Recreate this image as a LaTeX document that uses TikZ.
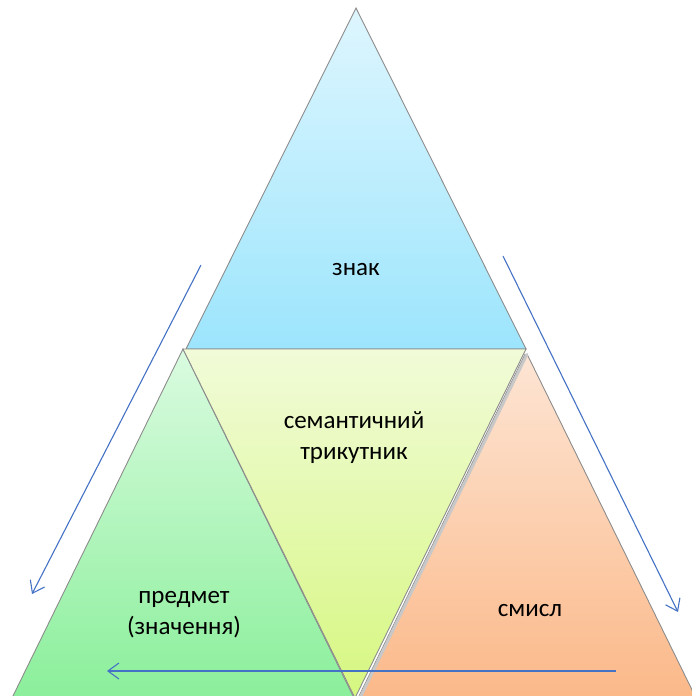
\documentclass[tikz,border=0pt]{standalone}
\usepackage{fontspec}
\setmainfont{Carlito}
\usetikzlibrary{arrows.meta}
\definecolor{arrowblue}{HTML}{4472C4}
\definecolor{edgegray}{HTML}{8C8C8C}
\definecolor{stripegray}{HTML}{C8C8C8}
\tikzset{
  tri/.style={draw=edgegray, line width=0.9pt, line join=miter},
  lbl/.style={font=\fontsize{25}{31}\selectfont, align=center, text=black, inner sep=0pt},
  flow/.style={draw=arrowblue, line width=1.1pt, -{Straight Barb[length=11pt,width=16pt,line width=1.1pt]}}
}
\begin{document}
\begin{tikzpicture}[x=1pt,y=-1pt]
\useasboundingbox (0,0) rectangle (692,696);
% top triangle (znak)
\path[tri, top color={rgb,255:red,222;green,246;blue,254}, bottom color={rgb,255:red,156;green,229;blue,253}]
  (356,8) -- (186,349) -- (526,349) -- cycle;
% left triangle (predmet)
\path[tri, top color={rgb,255:red,218;green,251;blue,224}, bottom color={rgb,255:red,138;green,239;blue,154}]
  (183,349) -- (11,700) -- (355,700) -- cycle;
% middle inverted triangle
\path[tri, top color={rgb,255:red,241;green,251;blue,216}, bottom color={rgb,255:red,214;green,247;blue,128}]
  (183,349) -- (526,349) -- (355,698) -- cycle;
% right triangle (smysl)
\path[tri, top color={rgb,255:red,253;green,229;blue,212}, bottom color={rgb,255:red,251;green,184;blue,136}]
  (527,354) -- (358,702) -- (698,702) -- cycle;
\coordinate (sa) at (527,354);
\coordinate (sb) at (358,702);
\draw[stripegray, line width=3pt] (sa) -- (sb);
\draw[edgegray, line width=0.6pt] ([xshift=-2pt]sa) -- ([xshift=-2pt]sb);
% labels
\node[lbl] (znak) at (356,270) {знак};
\node[lbl] (sem) at (354,438) {семантичний\\трикутник};
\node[lbl] (pred) at (184,615) {предмет\\(значення)};
\node[lbl] (smysl) at (530,611) {смисл};
% arrows
\coordinate (a1s) at (201,265);
\coordinate (a1e) at (32,594);
\coordinate (a2s) at (503,256);
\coordinate (a2e) at (678,612);
\coordinate (a3s) at (616,671);
\coordinate (a3e) at (107,671);
\draw[flow] (a1s) -- (a1e);
\draw[flow] (a2s) -- (a2e);
\draw[flow] (a3s) -- (a3e);
\end{tikzpicture}
\end{document}
